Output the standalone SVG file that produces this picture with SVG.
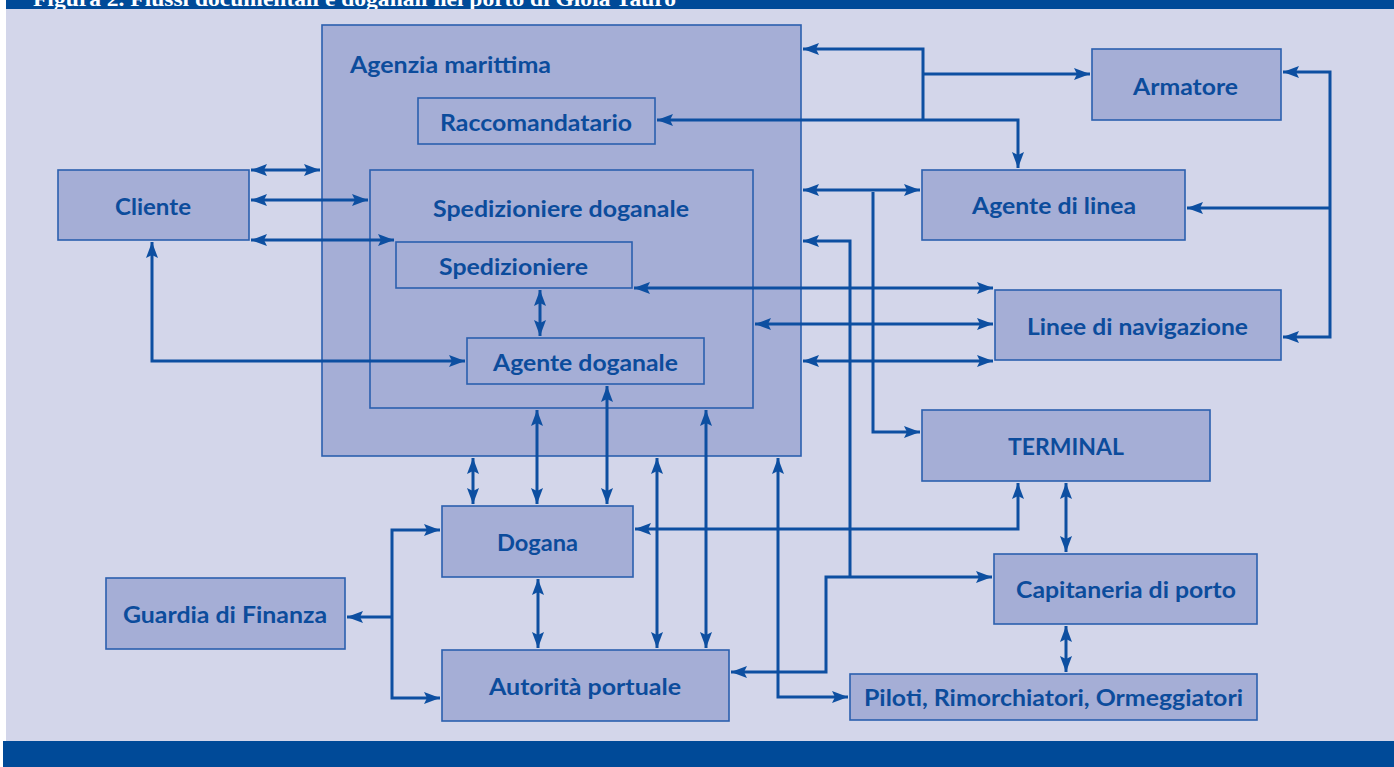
<svg xmlns="http://www.w3.org/2000/svg" width="1394" height="767" viewBox="0 0 1394 767">
<style>
.bx{fill:#A5AED6;stroke:#2B5FAE;stroke-width:1.6}
.t{font-family:Lato,"Open Sans","DejaVu Sans",sans-serif;font-weight:700;font-size:23px;fill:#0C4C9C;text-anchor:middle}
.c{fill:none;stroke:#0D4FA1;stroke-width:3}
.b{marker-start:url(#ah);marker-end:url(#ah)}
.e{marker-end:url(#ah)}
.s{marker-start:url(#ah)}
</style>
<defs>
<marker id="ah" markerUnits="userSpaceOnUse" markerWidth="17" markerHeight="13" refX="16" refY="6.5" orient="auto-start-reverse" viewBox="0 0 17 13">
<path d="M0,0.5 L16,6.5 L0,12.5 L3,6.5 z" fill="#0D4FA1"/>
</marker>
<clipPath id="topclip"><rect x="6" y="0" width="1388" height="9"/></clipPath>
</defs>
<rect x="0" y="0" width="1394" height="767" fill="#FFFFFF"/>
<rect x="6" y="8" width="1388" height="734" fill="#D3D6EA"/>
<rect x="6" y="0" width="1388" height="9" fill="#004A98"/>
<text x="33" y="6" clip-path="url(#topclip)" font-family="'Liberation Serif',serif" font-weight="700" font-size="21" fill="#FFFFFF" textLength="643" lengthAdjust="spacingAndGlyphs">Figura 2. Flussi documentali e doganali nel porto di Gioia Tauro</text>
<rect x="3" y="741" width="1391" height="26" fill="#004A98"/>

<g id="agenzia"><rect class="bx" x="322" y="25" width="479" height="431"/><text class="t" x="350" y="73" style="text-anchor:start" textLength="201" lengthAdjust="spacingAndGlyphs">Agenzia marittima</text></g>
<g id="raccomandatario"><rect class="bx" x="418" y="98" width="237" height="46"/><text class="t" x="536" y="131" textLength="192" lengthAdjust="spacingAndGlyphs">Raccomandatario</text></g>
<g id="spedizioniere-doganale"><rect class="bx" x="370" y="170" width="383" height="238"/><text class="t" x="561" y="217" textLength="256" lengthAdjust="spacingAndGlyphs">Spedizioniere doganale</text></g>
<g id="spedizioniere"><rect class="bx" x="396" y="242" width="236" height="46"/><text class="t" x="513.5" y="275" textLength="149" lengthAdjust="spacingAndGlyphs">Spedizioniere</text></g>
<g id="agente-doganale"><rect class="bx" x="467" y="338" width="237" height="46"/><text class="t" x="585.5" y="371" textLength="185" lengthAdjust="spacingAndGlyphs">Agente doganale</text></g>
<g id="cliente"><rect class="bx" x="58" y="170" width="191" height="70"/><text class="t" x="153" y="215" textLength="76" lengthAdjust="spacingAndGlyphs">Cliente</text></g>
<g id="armatore"><rect class="bx" x="1092" y="49" width="189" height="71"/><text class="t" x="1185.5" y="95" textLength="105" lengthAdjust="spacingAndGlyphs">Armatore</text></g>
<g id="agente-linea"><rect class="bx" x="922" y="170" width="263" height="70"/><text class="t" x="1054" y="214" textLength="164" lengthAdjust="spacingAndGlyphs">Agente di linea</text></g>
<g id="linee-navigazione"><rect class="bx" x="995" y="290" width="286" height="70"/><text class="t" x="1137.5" y="335" textLength="221" lengthAdjust="spacingAndGlyphs">Linee di navigazione</text></g>
<g id="terminal"><rect class="bx" x="922" y="410" width="288" height="71"/><text class="t" x="1066" y="455" textLength="116" lengthAdjust="spacingAndGlyphs">TERMINAL</text></g>
<g id="capitaneria"><rect class="bx" x="994" y="554" width="263" height="70"/><text class="t" x="1126" y="598" textLength="220" lengthAdjust="spacingAndGlyphs">Capitaneria di porto</text></g>
<g id="piloti"><rect class="bx" x="850" y="674" width="407" height="46"/><text class="t" x="1053.5" y="706" textLength="379" lengthAdjust="spacingAndGlyphs">Piloti, Rimorchiatori, Ormeggiatori</text></g>
<g id="dogana"><rect class="bx" x="442" y="506" width="191" height="71"/><text class="t" x="537.5" y="551" textLength="81" lengthAdjust="spacingAndGlyphs">Dogana</text></g>
<g id="autorita"><rect class="bx" x="442" y="650" width="287" height="71"/><text class="t" x="585" y="695" textLength="192" lengthAdjust="spacingAndGlyphs">Autorità portuale</text></g>
<g id="guardia"><rect class="bx" x="106" y="578" width="239" height="71"/><text class="t" x="225" y="623" textLength="204" lengthAdjust="spacingAndGlyphs">Guardia di Finanza</text></g>

<g id="connectors">
<path class="c b" d="M251,170 H320"/>
<path class="c b" d="M251,200 H368"/>
<path class="c b" d="M251,240 H394"/>
<path class="c b" d="M465,361 H152 V242"/>
<path class="c b" d="M540,290 V336"/>
<path class="c b" d="M657,120 H1018 V168"/>
<path class="c e" d="M923,120 V49 H803"/>
<path class="c e" d="M923,74 H1090"/>
<path class="c b" d="M1283,72 H1330 V337 H1283"/>
<path class="c e" d="M1330,208 H1187"/>
<path class="c b" d="M803,190 H920"/>
<path class="c e" d="M873,192 V432 H920"/>
<path class="c s" d="M803,241 H850 V577"/>
<path class="c b" d="M731,672 H826 V577 H992"/>
<path class="c b" d="M634,288 H993"/>
<path class="c b" d="M755,324 H993"/>
<path class="c b" d="M803,361 H993"/>
<path class="c b" d="M473,458 V504"/>
<path class="c b" d="M537,410 V504"/>
<path class="c b" d="M607,386 V504"/>
<path class="c b" d="M657,458 V648"/>
<path class="c b" d="M706,410 V648"/>
<path class="c b" d="M778,458 V697 H848"/>
<path class="c b" d="M635,529 H1018 V483"/>
<path class="c b" d="M538,579 V648"/>
<path class="c b" d="M440,530 H392 V698 H440"/>
<path class="c e" d="M392,617 H347"/>
<path class="c b" d="M1066,483 V552"/>
<path class="c b" d="M1066,626 V672"/>
</g>
</svg>
